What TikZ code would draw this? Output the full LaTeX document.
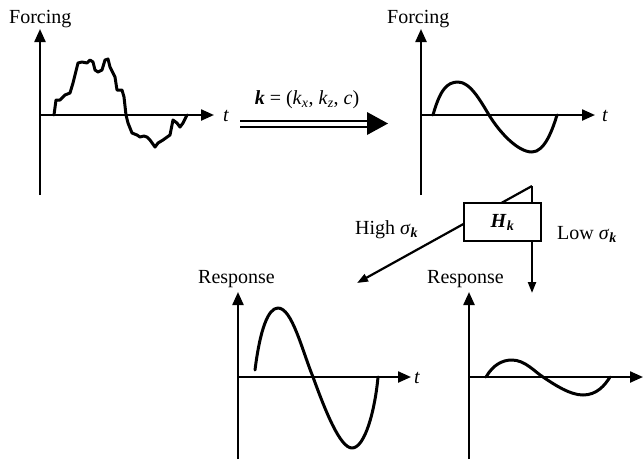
\documentclass[tikz,border=0pt]{standalone}
\usepackage{fontspec}
\setmainfont{Liberation Serif}
\usetikzlibrary{arrows.meta}
\newcommand{\bik}{\textbf{\textit{k}}}
\begin{document}
\begin{tikzpicture}[x=1pt,y=-1pt,
  axis/.style={line width=2.3pt,-{Triangle[length=13pt,width=11pt]}},
  conn/.style={line width=2.2pt,-{Triangle[length=11pt,width=8pt]}},
  curve/.style={line width=3pt,line join=round,line cap=round},
  lab/.style={font=\fontsize{20}{22}\selectfont,inner sep=0pt},
  box/.style={draw,line width=1.3pt,fill=white,minimum width=77pt,minimum height=38pt,inner sep=0pt}
]
\useasboundingbox (0,0) rectangle (644,459);

% ---------- top-left panel ----------
\draw[axis] (40,195) -- (40,29);
\draw[axis] (40,115) -- (214,115);
\node[lab,anchor=base west] (f1) at (9,23) {Forcing};
\node[lab,anchor=base west] (t1) at (223,121) {\textit{t}};
\draw[curve] plot coordinates {(54,115) (56,100) (60,100) (65,95) (70,93) (73,83) (78,63) (82,62) (87,63) (90,60) (93,62) (95,70) (98,72) (102,70) (105,60) (108,59) (110,67) (115,77) (117,90) (122,90) (124,97) (126,115) (128,123) (132,133) (137,135) (140,137) (144,136) (147,137) (150,140) (155,147) (158,143) (163,140) (170,135) (173,120) (177,123) (180,127) (183,123) (187,115)};

% ---------- double arrow ----------
\coordinate (da1) at (240,123.5);
\coordinate (da2) at (369,123.5);
\draw[line width=2pt] ([yshift=-3pt]da1) -- ([yshift=-3pt]da2);
\draw[line width=2pt] ([yshift=3pt]da1) -- ([yshift=3pt]da2);
\fill (367,112) -- (388,123.5) -- (367,135) -- cycle;
\node[lab,anchor=base] (klab) at (307,104) {\bik\ = (\textit{k}\textsubscript{\textit{x}}, \textit{k}\textsubscript{\textit{z}}, \textit{c})};

% ---------- top-right panel ----------
\draw[axis] (421,195) -- (421,29);
\draw[axis] (421,115) -- (595,115);
\node[lab,anchor=base west] (f2) at (387,23) {Forcing};
\node[lab,anchor=base west] (t2) at (602,121) {\textit{t}};
\draw[curve] (433,115) .. controls (440,90) and (447,82) .. (458,82)
  .. controls (470,82) and (480,100) .. (489,115)
  .. controls (500,133) and (518,152) .. (532,152)
  .. controls (545,152) and (553,128) .. (557,115);

% ---------- transfer box and branches ----------
\coordinate (corner) at (532,186);
\coordinate (hi) at (357,283);
\coordinate (lo) at (532,293);
\draw[conn] (corner) -- (hi);
\draw[conn] (corner) -- (lo);
\node[box] (H) at (502.5,222) {\fontsize{20}{22}\selectfont\textbf{\textit{H}}\textsubscript{\bik}};
\node[lab,anchor=base west] (high) at (355,234) {High \textit{σ}\textsubscript{\bik}};
\node[lab,anchor=base west] (low) at (557,239) {Low \textit{σ}\textsubscript{\bik}};

% ---------- bottom-left panel ----------
\draw[axis] (238,459) -- (238,292);
\draw[axis] (238,377) -- (411,377);
\node[lab,anchor=base west] (r1) at (198,283) {Response};
\node[lab,anchor=base west] (t3) at (414,383) {\textit{t}};
\draw[curve] (255,370) .. controls (260,330) and (268,308) .. (278,308)
  .. controls (292,308) and (302,350) .. (313,377)
  .. controls (325,410) and (340,448) .. (352,448)
  .. controls (365,448) and (375,410) .. (378,377);

% ---------- bottom-right panel ----------
\draw[axis] (469,459) -- (469,292);
\draw[axis] (469,377) -- (643,377);
\node[lab,anchor=base west] (r2) at (427,283) {Response};
\draw[curve] (486,377) .. controls (493,365) and (502,360) .. (512,360)
  .. controls (525,360) and (535,372) .. (543,377)
  .. controls (555,385) and (570,395) .. (583,395)
  .. controls (597,395) and (605,385) .. (610,377);
\end{tikzpicture}
\end{document}
